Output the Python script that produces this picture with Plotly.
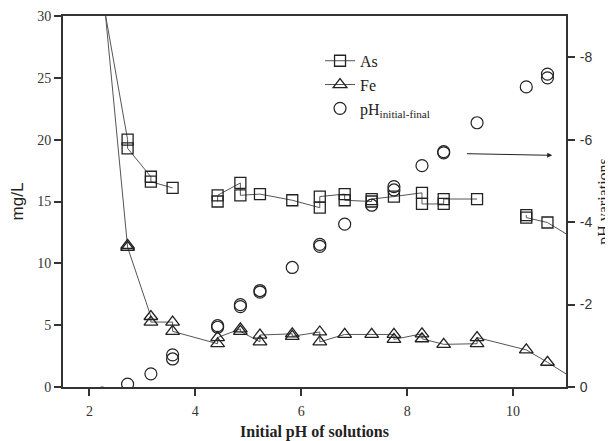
import plotly.graph_objects as go

# ---- data ----
as_x = [2.24, 2.72, 2.72, 3.16, 3.16, 3.57,
        4.42, 4.42, 4.85, 4.85, 5.22, 5.83, 6.35, 6.35, 6.82, 6.82, 7.33, 7.33,
        7.75, 8.28, 8.28, 8.69, 8.69, 9.32,
        10.25, 10.25, 10.65, 11.3]
as_y = [31.6, 20.0, 19.3, 17.0, 16.6, 16.1,
        15.0, 15.5, 16.5, 15.5, 15.6, 15.1, 14.5, 15.4, 15.6, 15.1, 15.0, 15.2,
        15.4, 15.7, 14.8, 14.8, 15.2, 15.2,
        13.9, 13.7, 13.3, 11.6]
as_breaks_after = [3.57, 9.32]

fe_x = [2.24, 2.72, 2.72, 3.16, 3.16, 3.57, 3.57, 4.42, 4.42, 4.85, 4.85,
        5.22, 5.22, 5.83, 5.83, 6.35, 6.35, 6.82, 7.33, 7.75, 7.75, 8.28, 8.28,
        8.69, 9.32, 9.32, 10.25, 10.65, 11.3]
fe_y = [32.9, 11.45, 11.3, 5.7, 5.25, 5.25, 4.5, 3.5, 4.0, 4.7, 4.5,
        3.65, 4.2, 4.3, 4.1, 4.45, 3.65, 4.25, 4.25, 4.25, 3.85, 4.3, 3.9,
        3.45, 3.5, 4.0, 3.0, 2.0, 0.25]

ph_x = [2.24, 2.72, 3.16, 3.57, 3.57, 4.42, 4.42, 4.85, 4.85, 5.22, 5.22,
        5.83, 6.35, 6.35, 6.82, 7.33, 7.75, 7.75, 8.28, 8.69, 8.69, 9.32,
        10.25, 10.65, 10.65]
ph_var = [0.15, -0.07, -0.32, -0.78, -0.68, -1.49, -1.45, -2.0, -1.95, -2.34, -2.3,
          -2.9, -3.46, -3.41, -3.95, -4.41, -4.86, -4.78, -5.37, -5.71, -5.68, -6.41,
          -7.28, -7.59, -7.5]

x_ticks = [2, 4, 6, 8, 10]
y_ticks = [0, 5, 10, 15, 20, 25, 30]
y2_ticks = [0, -2, -4, -6, -8]
y2_labels = ["0", "-2", "-4", "-6", "-8"]

# build As path with gaps
as_px, as_py = [], []
for i, (xv, yv) in enumerate(zip(as_x, as_y)):
    as_px.append(xv)
    as_py.append(yv)
    last_of_x = (i == len(as_x) - 1) or (as_x[i + 1] != xv)
    if xv in as_breaks_after and last_of_x:
        as_px.append(None)
        as_py.append(None)

INK = "#222222"
LINE = "#555555"
SERIF = "Liberation Serif"
SANS = "Liberation Sans"

fig = go.Figure()
fig.add_trace(go.Scatter(
    x=as_px, y=as_py, name="As", mode="lines+markers", connectgaps=False,
    line=dict(color=LINE, width=1),
    marker=dict(symbol="square-open", size=11, color=INK, line=dict(width=1.3)),
))
fig.add_trace(go.Scatter(
    x=fe_x, y=fe_y, name="Fe", mode="lines+markers",
    line=dict(color=LINE, width=1),
    marker=dict(symbol="triangle-up-open", size=12, color=INK, line=dict(width=1.3)),
))
fig.add_trace(go.Scatter(
    x=ph_x, y=ph_var, name="pH<sub>initial-final</sub>", mode="markers", yaxis="y2",
    marker=dict(symbol="circle-open", size=12, color=INK, line=dict(width=1.2)),
))

fig.add_annotation(
    x=10.74, y=-5.62, ax=9.1, ay=-5.66, xref="x", yref="y2", axref="x", ayref="y2",
    text="", showarrow=True, arrowhead=2, arrowsize=1, arrowwidth=1, arrowcolor=INK,
)

fig.update_layout(
    width=605, height=433,
    margin=dict(l=55, r=47, t=8, b=54, autoexpand=False),
    paper_bgcolor="white", plot_bgcolor="white",
    showlegend=True,
    legend=dict(x=0.511, y=0.925, xanchor="left", yanchor="top",
                font=dict(family=SERIF, size=16, color=INK),
                bgcolor="rgba(0,0,0,0)", tracegroupgap=0),
    xaxis=dict(range=[1.5, 11.0], tickvals=x_ticks, ticks="outside", ticklen=7,
               tickwidth=1.5, tickcolor="#333", showline=True, linewidth=2,
               linecolor="#333", mirror=True, showgrid=False, zeroline=False,
               automargin=False, ticklabelstandoff=3,
               tickfont=dict(family=SERIF, size=14, color="#333"),
               title=dict(text="<b>Initial pH of solutions</b>", standoff=8,
                          font=dict(family=SERIF, size=16, color=INK))),
    yaxis=dict(range=[0, 30], tickvals=y_ticks, ticks="outside", ticklen=7,
               tickwidth=1.5, tickcolor="#333", showline=True, linewidth=2,
               linecolor="#333", showgrid=False, zeroline=False,
               automargin=False,
               tickfont=dict(family=SERIF, size=14, color="#333"),
               title=dict(text="mg/L", standoff=12,
                          font=dict(family=SANS, size=17, color=INK))),
    yaxis2=dict(range=[0, -9], overlaying="y", side="right", tickvals=y2_ticks,
                ticktext=y2_labels, ticks="outside", ticklen=7, tickwidth=1.5,
                tickcolor="#333", showline=True, linewidth=2, linecolor="#333",
                showgrid=False, zeroline=False, automargin=False,
                ticklabelstandoff=2,
                tickfont=dict(family=SANS, size=14, color="#333"),
                title=dict(text="pH variations", standoff=10,
                           font=dict(family=SERIF, size=16, color=INK))),
)

fig.write_html("out.html")
